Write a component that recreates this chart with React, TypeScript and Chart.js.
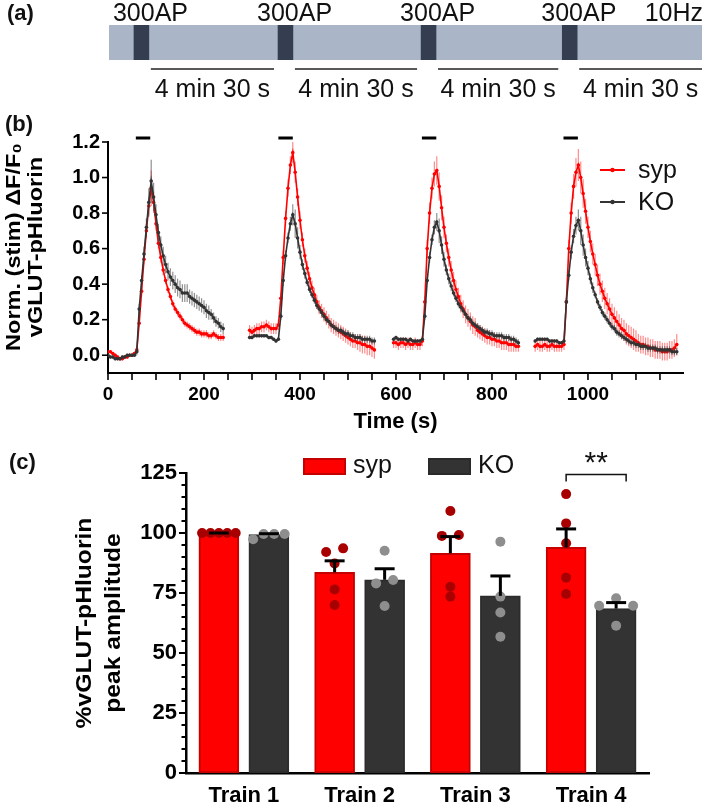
import React, { useEffect, useRef } from 'react';
import { Chart, registerables } from 'chart.js';

Chart.register(...registerables);

const FONT = "'Liberation Sans', Arial, Helvetica, sans-serif";

// ---------------- Panel (a): stimulation protocol ----------------
const PROTOCOL_END = 1235;
const TRAIN_STARTS = [52, 352, 650, 944];
const TRAIN_LEN = 31;
const TRAIN_LABEL = '300AP';
const FREQ_LABEL = '10Hz';
const REST_LABEL = '4 min 30 s';

// ---------------- Panel (b): traces ----------------
const TIME_MAX = 1198;
const SAMPLE_STEP = 5;
const SEG_STARTS = [0, 295, 595, 890];
const STIM_TIMES = [58, 355, 654, 949];
const STIM_DUR = 30;
const X_LABELS_B = [0, 200, 400, 600, 800, 1000];
const X_MINOR_B = 50;
const Y_TICKS_B = [0, 0.2, 0.4, 0.6, 0.8, 1.0, 1.2];
const Y_TITLE_B = ['Norm. (stim) \u0394F/F\u2080', 'vGLUT-pHluorin'];

const SYP_SEG1 = [0.02,0.02,0.01,0.00,-0.01,-0.02,-0.02,-0.01,-0.01,0.00,0.00,0.01,
  0.03,0.18,0.36,0.54,0.70,0.84,0.94,0.86,0.74,0.63,0.55,0.48,0.42,0.37,0.33,0.29,0.26,0.24,0.22,0.20,0.18,0.17,0.16,0.15,0.14,0.13,0.13,0.12,0.12,0.12,0.11,0.11,0.12,0.11,0.10,0.10,0.10];
const KO_SEG1 = [0.00,-0.01,-0.01,-0.02,-0.02,-0.02,-0.01,-0.01,0.00,0.00,0.00,0.00,
  0.02,0.26,0.42,0.57,0.72,0.86,0.98,0.89,0.79,0.69,0.62,0.56,0.51,0.47,0.44,0.42,0.40,0.38,0.37,0.35,0.35,0.35,0.33,0.32,0.31,0.30,0.29,0.28,0.27,0.25,0.24,0.23,0.21,0.19,0.18,0.16,0.15];
const SYP_SEG2 = [0.14,0.13,0.14,0.15,0.15,0.16,0.16,0.17,0.16,0.15,0.15,0.15,0.17,
  0.32,0.55,0.77,0.94,1.07,1.14,1.03,0.89,0.76,0.65,0.56,0.49,0.43,0.38,0.34,0.30,0.27,0.25,0.23,0.21,0.19,0.17,0.16,0.15,0.14,0.13,0.12,0.11,0.10,0.09,0.08,0.08,0.07,0.07,0.06,0.06,0.05,0.05,0.04,0.03];
const KO_SEG2 = [0.10,0.10,0.11,0.11,0.11,0.11,0.11,0.11,0.10,0.10,0.09,0.08,0.09,
  0.22,0.42,0.56,0.66,0.74,0.79,0.74,0.66,0.58,0.51,0.46,0.41,0.37,0.34,0.31,0.28,0.26,0.24,0.22,0.20,0.19,0.17,0.16,0.15,0.14,0.14,0.13,0.12,0.12,0.11,0.11,0.10,0.10,0.10,0.09,0.09,0.09,0.09,0.08,0.08];
const SYP_SEG3 = [0.07,0.07,0.06,0.07,0.07,0.06,0.07,0.06,0.06,0.07,0.06,0.06,0.08,
  0.30,0.60,0.80,0.94,1.02,1.04,0.95,0.83,0.72,0.63,0.55,0.48,0.42,0.37,0.33,0.29,0.26,0.23,0.21,0.19,0.17,0.16,0.14,0.13,0.12,0.11,0.10,0.10,0.09,0.09,0.08,0.08,0.07,0.07,0.07,0.06,0.06,0.06,0.05,0.05];
const KO_SEG3 = [0.09,0.10,0.09,0.09,0.09,0.09,0.08,0.09,0.08,0.08,0.08,0.08,0.09,
  0.22,0.42,0.55,0.65,0.72,0.75,0.70,0.62,0.54,0.48,0.43,0.39,0.35,0.32,0.29,0.27,0.25,0.23,0.21,0.20,0.18,0.17,0.16,0.15,0.14,0.13,0.13,0.12,0.12,0.11,0.11,0.11,0.11,0.10,0.10,0.10,0.09,0.09,0.08,0.07];
const SYP_SEG4 = [0.05,0.06,0.05,0.05,0.06,0.05,0.05,0.06,0.05,0.05,0.05,0.05,0.06,
  0.30,0.60,0.80,0.95,1.03,1.07,1.00,0.91,0.81,0.72,0.64,0.57,0.51,0.45,0.40,0.36,0.32,0.29,0.26,0.23,0.21,0.19,0.17,0.15,0.14,0.12,0.11,0.10,0.09,0.08,0.07,0.06,0.06,0.05,0.05,0.04,0.04,0.03,0.03,0.03,0.02,0.02,0.02,0.03,0.03,0.04,0.06];
const KO_SEG4 = [0.08,0.09,0.09,0.09,0.09,0.09,0.08,0.08,0.08,0.08,0.07,0.07,0.08,
  0.30,0.45,0.58,0.67,0.73,0.76,0.70,0.62,0.55,0.49,0.43,0.38,0.34,0.30,0.27,0.24,0.22,0.20,0.18,0.16,0.15,0.13,0.12,0.11,0.10,0.09,0.08,0.07,0.07,0.06,0.06,0.05,0.05,0.05,0.04,0.04,0.04,0.04,0.03,0.03,0.03,0.03,0.03,0.03,0.02,0.02,0.02];

const SYP_ERR1 = [0.01,0.01,0.01,0.01,0.01,0.01,0.01,0.01,0.01,0.01,0.01,0.01,
  0.02,0.02,0.03,0.03,0.04,0.05,0.10,0.06,0.04,0.03,0.03,0.03,
  0.02,0.02,0.02,0.02,0.02,0.02,0.02,0.02,0.02,0.02,0.02,0.02,0.02,0.02,0.02,0.02,0.02,0.02,0.02,0.02,0.02,0.02,0.02,0.02,0.02];
const KO_ERR1 = [0.01,0.01,0.01,0.01,0.01,0.01,0.01,0.01,0.01,0.01,0.01,0.01,
  0.02,0.03,0.03,0.04,0.05,0.08,0.12,0.08,0.06,0.05,0.05,0.05,
  0.05,0.05,0.05,0.05,0.05,0.05,0.05,0.05,0.05,0.05,0.04,0.04,0.04,0.04,0.04,0.04,0.04,0.04,0.04,0.03,0.03,0.03,0.03,0.03,0.03];
const SYP_ERR2 = [0.03,0.03,0.03,0.03,0.03,0.03,0.03,0.03,0.03,0.03,0.03,0.03,0.03,
  0.03,0.04,0.04,0.05,0.05,0.06,0.06,0.05,0.05,0.04,
  0.04,0.04,0.04,0.04,0.04,0.04,0.04,0.04,0.04,0.04,0.04,0.04,0.04,0.04,0.04,0.04,0.04,0.04,0.04,0.04,0.04,0.04,0.04,
  0.05,0.05,0.05,0.05,0.05,0.05,0.05];
const KO_ERR2 = [0.01,0.01,0.01,0.01,0.01,0.01,0.01,0.01,0.01,0.01,0.01,0.01,0.01,
  0.02,0.03,0.03,0.03,0.04,0.06,0.08,0.06,0.04,0.03,0.03,0.02,
  0.02,0.02,0.02,0.02,0.02,0.02,0.02,0.02,0.02,0.02,0.02,0.02,0.02,0.02,0.02,0.02,0.02,0.02,0.02,0.02,0.02,0.02,0.02,0.02,0.02,0.02,0.02,0.02];
const SYP_ERR3 = [0.03,0.03,0.03,0.03,0.03,0.03,0.03,0.03,0.03,0.03,0.03,0.03,0.03,
  0.03,0.05,0.06,0.06,0.07,0.08,0.08,0.07,0.06,0.05,
  0.05,0.05,0.05,0.05,0.05,0.05,0.05,0.05,0.05,0.05,0.05,0.05,
  0.04,0.04,0.04,0.04,0.04,0.04,0.04,0.04,0.04,0.04,0.04,0.04,0.04,0.04,0.04,0.04,0.03,0.03];
const KO_ERR3 = [0.01,0.01,0.01,0.01,0.01,0.01,0.01,0.01,0.01,0.01,0.01,0.01,0.01,
  0.02,0.02,0.03,0.03,0.04,0.05,0.07,0.05,0.04,0.03,0.03,0.03,
  0.02,0.02,0.02,0.02,0.02,0.02,0.02,0.02,0.02,0.02,0.02,0.02,0.02,0.02,0.02,0.02,0.02,0.02,0.02,0.02,0.02,0.02,0.02,0.02,0.02,0.02,0.02,0.02];
const SYP_ERR4 = [0.03,0.03,0.03,0.03,0.03,0.03,0.03,0.03,0.03,0.03,0.03,0.03,0.03,
  0.03,0.05,0.06,0.07,0.08,0.09,0.09,0.08,0.07,0.06,
  0.06,0.06,0.06,0.06,0.06,0.06,0.06,0.06,0.06,0.06,0.06,0.06,0.06,0.06,0.06,0.06,0.06,0.06,0.06,0.06,
  0.05,0.05,0.05,0.05,0.05,0.05,0.05,0.05,0.05,0.05,0.05,0.05,0.05,0.05,0.05,0.05,0.06];
const KO_ERR4 = [0.01,0.01,0.01,0.01,0.01,0.01,0.01,0.01,0.01,0.01,0.01,0.01,0.01,
  0.02,0.03,0.04,0.04,0.05,0.06,0.08,0.06,0.05,0.04,0.03,0.03,
  0.02,0.02,0.02,0.02,0.02,0.02,0.02,0.02,0.02,0.02,0.02,0.02,0.02,0.02,0.02,0.02,0.02,0.02,0.02,0.02,0.02,0.02,0.02,0.02,0.02,0.02,0.02,0.02,0.02,0.02,0.02,0.02,0.02,0.02,0.02];

const SYP_SEGS = [SYP_SEG1, SYP_SEG2, SYP_SEG3, SYP_SEG4];
const KO_SEGS = [KO_SEG1, KO_SEG2, KO_SEG3, KO_SEG4];
const SYP_ERRS = [SYP_ERR1, SYP_ERR2, SYP_ERR3, SYP_ERR4];
const KO_ERRS = [KO_ERR1, KO_ERR2, KO_ERR3, KO_ERR4];

// ---------------- Panel (c): peak amplitudes ----------------
const TRAINS = ['Train 1', 'Train 2', 'Train 3', 'Train 4'];
const SYP_MEAN = [100, 83.6, 91.5, 94];
const SYP_SEM = [0, 4.8, 7.0, 7.7];
const KO_MEAN = [99.3, 80.5, 73.8, 68.5];
const KO_SEM = [0.4, 4.6, 8.3, 2.5];
const SYP_CELLS = [[100, 100, 100, 100, 100], [92.1, 93.6, 87.3, 76.5, 70], [109.2, 98.8, 99.2, 77.6, 73.5], [116.2, 104, 95.7, 81.4, 74.6]];
const KO_CELLS = [[97.4, 99.6, 99.6, 99.6], [92.6, 79, 80.4, 69.6], [96.4, 73.5, 66.9, 56.8], [69.7, 72.8, 69.7, 61.4]];
const Y_LABELS_C = [0, 25, 50, 75, 100, 125];
const Y_MINOR_C = 5;
const Y_TITLE_C = ['%vGLUT-pHluorin', 'peak amplitude'];
const SIG_LABEL = '**';

const RED = '#ff0000';
const DARK = '#333333';

function buildSeries(segs: number[][], errs: number[][]) {
  const pts: { x: number; y: number | null; e: number }[] = [];
  segs.forEach((seg, si) => {
    if (si > 0) pts.push({ x: SEG_STARTS[si] - 20, y: null, e: 0 });
    seg.forEach((v, i) => pts.push({ x: SEG_STARTS[si] + i * SAMPLE_STEP, y: v, e: errs[si][i] ?? 0 }));
  });
  return pts;
}

// horizontal spread (px) of dots that would overlap
function swarm(vals: number[]): number[] {
  const idx = vals.map((_, i) => i).sort((a, b) => vals[a] - vals[b]);
  const groups: number[][] = [];
  let cur: number[] = [];
  idx.forEach((i, k) => {
    if (k > 0 && vals[i] - vals[idx[k - 1]] >= 3.5) { groups.push(cur); cur = []; }
    cur.push(i);
  });
  if (cur.length) groups.push(cur);
  const off = new Array(vals.length).fill(0);
  groups.forEach((g) => {
    g.sort((a, b) => a - b);
    const n = g.length;
    const sp = n <= 3 ? 17 : 42 / n;
    g.forEach((i, k) => { off[i] = (k - (n - 1) / 2) * sp; });
  });
  return off;
}

function line(ctx: CanvasRenderingContext2D, x0: number, y0: number, x1: number, y1: number) {
  ctx.beginPath();
  ctx.moveTo(x0, y0);
  ctx.lineTo(x1, y1);
  ctx.stroke();
}

function rotatedTitle(ctx: CanvasRenderingContext2D, lines: string[], xs: number[], cy: number, font: string, stretch: number) {
  ctx.save();
  ctx.font = font;
  ctx.fillStyle = '#000';
  ctx.textAlign = 'center';
  ctx.textBaseline = 'middle';
  lines.forEach((t, i) => {
    ctx.save();
    ctx.translate(xs[i], cy);
    ctx.rotate(-Math.PI / 2);
    ctx.scale(stretch, 1);
    ctx.fillText(t, 0, 0);
    ctx.restore();
  });
  ctx.restore();
}

const panelAText = {
  id: 'panelAText',
  afterDraw(chart: any) {
    const { ctx, chartArea: area } = chart;
    const xs = chart.scales.x;
    ctx.save();
    ctx.fillStyle = '#111';
    ctx.font = `bold 22px ${FONT}`;
    ctx.textBaseline = 'middle';
    ctx.textAlign = 'left';
    ctx.fillText('(a)', 7, 14);
    ctx.font = `25px ${FONT}`;
    ctx.textBaseline = 'alphabetic';
    TRAIN_STARTS.forEach((s) => ctx.fillText(TRAIN_LABEL, xs.getPixelForValue(s) - 21, 21));
    ctx.textAlign = 'right';
    ctx.fillText(FREQ_LABEL, area.right + 1, 21);
    ctx.strokeStyle = '#222';
    ctx.lineWidth = 1.3;
    ctx.textAlign = 'center';
    TRAIN_STARTS.forEach((s, i) => {
      const x0 = xs.getPixelForValue(s + TRAIN_LEN) + 2;
      const x1 = i < TRAIN_STARTS.length - 1 ? xs.getPixelForValue(TRAIN_STARTS[i + 1]) - 4 : area.right;
      line(ctx, x0, 69, x1, 69);
      ctx.fillText(REST_LABEL, (x0 + x1) / 2, 97);
    });
    ctx.restore();
  },
};

const panelBDecor = {
  id: 'panelBDecor',
  beforeDatasetDraw(chart: any, args: any) {
    const ds = chart.data.datasets[args.index];
    const ys = chart.scales.y;
    const ctx = chart.ctx;
    ctx.save();
    ctx.strokeStyle = ds.errorColor;
    ctx.lineWidth = 1.2;
    ctx.beginPath();
    args.meta.data.forEach((el: any, i: number) => {
      const p = ds.data[i];
      if (p.y == null) return;
      ctx.moveTo(el.x, ys.getPixelForValue(p.y - p.e));
      ctx.lineTo(el.x, ys.getPixelForValue(p.y + p.e));
    });
    ctx.stroke();
    ctx.restore();
  },
  afterDraw(chart: any) {
    const { ctx } = chart;
    const xs = chart.scales.x;
    const ys = chart.scales.y;
    ctx.save();
    // axis tick marks
    ctx.strokeStyle = '#000';
    ctx.lineWidth = 1.6;
    for (let t = 0; t <= TIME_MAX; t += X_MINOR_B) {
      const p = xs.getPixelForValue(t);
      line(ctx, p, xs.top, p, xs.top + 7);
    }
    Y_TICKS_B.forEach((v) => {
      const p = ys.getPixelForValue(v);
      line(ctx, ys.right - 6, p, ys.right, p);
    });
    // stimulation bars
    ctx.lineWidth = 3;
    const yb = ys.getPixelForValue(1.2225);
    STIM_TIMES.forEach((s) => line(ctx, xs.getPixelForValue(s), yb, xs.getPixelForValue(s + STIM_DUR), yb));
    // legend
    const items = [
      { label: 'syp', color: RED, y: 65 },
      { label: 'KO', color: DARK, y: 97 },
    ];
    items.forEach((it) => {
      ctx.strokeStyle = it.color;
      ctx.fillStyle = it.color;
      ctx.lineWidth = 2;
      line(ctx, 600, it.y, 625, it.y);
      ctx.beginPath();
      ctx.arc(612.5, it.y, 2.2, 0, Math.PI * 2);
      ctx.fill();
      ctx.fillStyle = '#111';
      ctx.font = `25px ${FONT}`;
      ctx.textAlign = 'left';
      ctx.textBaseline = 'middle';
      ctx.fillText(it.label, 638, it.y + 1);
    });
    ctx.font = `bold 22px ${FONT}`;
    ctx.fillStyle = '#111';
    ctx.fillText('(b)', 5, 20);
    ctx.restore();
    rotatedTitle(ctx, Y_TITLE_B, [14, 36], 142, `bold 21px ${FONT}`, 1.12);
  },
};

const panelCDecor = {
  id: 'panelCDecor',
  afterDatasetsDraw(chart: any) {
    const { ctx } = chart;
    const ys = chart.scales.y;
    ctx.save();
    ctx.strokeStyle = '#000';
    ctx.lineWidth = 3;
    [0, 1].forEach((di) => {
      const ds = chart.data.datasets[di];
      const meta = chart.getDatasetMeta(di);
      meta.data.forEach((bar: any, i: number) => {
        const top = ys.getPixelForValue(ds.data[i].y + ds.sem[i]);
        line(ctx, bar.x, bar.y, bar.x, top);
        line(ctx, bar.x - 10, top, bar.x + 10, top);
      });
    });
    // significance bracket between syp and KO of train 4
    const last = TRAINS.length - 1;
    const bx0 = chart.getDatasetMeta(0).data[last].x;
    const bx1 = chart.getDatasetMeta(1).data[last].x + 10;
    const by = ys.getPixelForValue(124.4);
    ctx.lineWidth = 1.5;
    ctx.strokeStyle = '#111';
    ctx.beginPath();
    ctx.moveTo(bx0, by + 7);
    ctx.lineTo(bx0, by);
    ctx.lineTo(bx1, by);
    ctx.lineTo(bx1, by + 7);
    ctx.stroke();
    ctx.fillStyle = '#111';
    ctx.font = `30px ${FONT}`;
    ctx.textAlign = 'center';
    ctx.textBaseline = 'alphabetic';
    ctx.fillText(SIG_LABEL, (bx0 + bx1) / 2, by - 2);
    ctx.restore();
  },
  afterDraw(chart: any) {
    const { ctx } = chart;
    const ys = chart.scales.y;
    ctx.save();
    // y tick marks (major + minor)
    ctx.strokeStyle = '#000';
    ctx.lineWidth = 2;
    for (let v = 0; v <= Y_LABELS_C[Y_LABELS_C.length - 1]; v += Y_MINOR_C) {
      const p = ys.getPixelForValue(v);
      const len = Y_LABELS_C.includes(v) ? 7 : 4.5;
      line(ctx, ys.right - len, p, ys.right, p);
    }
    const items = [
      { label: 'syp', fill: RED, border: '#c40000', x: 303 },
      { label: 'KO', fill: DARK, border: '#2a2a2a', x: 428 },
    ];
    items.forEach((it) => {
      ctx.fillStyle = it.fill;
      ctx.fillRect(it.x, 23, 43, 17);
      ctx.strokeStyle = it.border;
      ctx.lineWidth = 2;
      ctx.strokeRect(it.x + 1, 24, 41, 15);
      ctx.fillStyle = '#111';
      ctx.font = `25px ${FONT}`;
      ctx.textAlign = 'left';
      ctx.textBaseline = 'middle';
      ctx.fillText(it.label, it.x + 50, 31);
    });
    ctx.font = `bold 22px ${FONT}`;
    ctx.fillText('(c)', 9, 28);
    ctx.restore();
    rotatedTitle(ctx, Y_TITLE_C, [85, 114], 188, `bold 22px ${FONT}`, 1.12);
  },
};

function makeA(canvas: HTMLCanvasElement) {
  return new Chart(canvas, {
    type: 'bar',
    data: {
      labels: ['protocol'],
      datasets: [
        { data: [[0, PROTOCOL_END]], backgroundColor: '#aab5c8', grouped: false, barPercentage: 1, categoryPercentage: 1, order: 2 },
        ...TRAIN_STARTS.map((s) => ({ data: [[s, s + TRAIN_LEN]], backgroundColor: '#343e50', grouped: false, barPercentage: 1, categoryPercentage: 1, order: 1 })),
      ],
    },
    options: {
      indexAxis: 'y',
      responsive: false,
      animation: false,
      events: [],
      layout: { padding: { left: 109, right: 7, top: 25, bottom: 45 } },
      scales: {
        x: { type: 'linear', min: 0, max: PROTOCOL_END, display: false },
        y: { display: false },
      },
      plugins: { legend: { display: false }, tooltip: { enabled: false } },
    },
    plugins: [panelAText],
  } as any);
}

function makeB(canvas: HTMLCanvasElement) {
  return new Chart(canvas, {
    type: 'line',
    data: {
      datasets: [
        {
          label: 'syp', data: buildSeries(SYP_SEGS, SYP_ERRS), borderColor: RED, backgroundColor: RED,
          pointRadius: 1.8, pointBorderWidth: 0, borderWidth: 1.6, tension: 0, spanGaps: false, order: 2,
          errorColor: 'rgba(255,45,45,0.55)',
        },
        {
          label: 'KO', data: buildSeries(KO_SEGS, KO_ERRS), borderColor: DARK, backgroundColor: DARK,
          pointRadius: 1.8, pointBorderWidth: 0, borderWidth: 1.6, tension: 0, spanGaps: false, order: 1,
          errorColor: 'rgba(70,70,70,0.6)',
        },
      ],
    },
    options: {
      responsive: false,
      animation: false,
      events: [],
      layout: { padding: { top: 37, right: 26, left: 0, bottom: 0 } },
      scales: {
        x: {
          type: 'linear', min: 0, max: TIME_MAX,
          afterBuildTicks: (s: any) => { s.ticks = X_LABELS_B.map((v) => ({ value: v })); },
          ticks: {
            autoSkip: false, maxRotation: 0, padding: 3, color: '#000',
            font: { family: FONT, size: 19, weight: 'bold' },
            callback: (v: any) => String(v),
          },
          grid: { display: false, drawTicks: true, tickLength: 7 },
          border: { display: true, color: '#000', width: 2 },
          title: { display: true, text: 'Time (s)', color: '#000', font: { family: FONT, size: 22, weight: 'bold' }, padding: 0 },
          afterFit: (s: any) => { s.height = 62; },
        },
        y: {
          type: 'linear', min: -0.1, max: 1.2,
          afterBuildTicks: (s: any) => { s.ticks = Y_TICKS_B.map((v) => ({ value: v })); },
          ticks: {
            autoSkip: false, padding: 2, color: '#000', font: { family: FONT, size: 20, weight: 'bold' },
            callback: (v: any) => Number(v).toFixed(1),
          },
          grid: { display: false, drawTicks: true, tickLength: 6 },
          border: { display: true, color: '#000', width: 2 },
          afterFit: (s: any) => { s.width = 108; },
        },
      },
      plugins: { legend: { display: false }, tooltip: { enabled: false } },
    },
    plugins: [panelBDecor],
  } as any);
}

function makeC(canvas: HTMLCanvasElement) {
  const BAR_SHIFT = 0.216; // half of the syp-KO centre distance, in category units
  const CAT_PX = 115.75;
  const bars = (vals: number[], sign: number) => vals.map((v, i) => ({ x: i + sign * BAR_SHIFT, y: v }));
  const dots = (cells: number[][], sign: number) =>
    cells.flatMap((vals, t) => {
      const off = swarm(vals);
      return vals.map((v, i) => ({ x: t + sign * BAR_SHIFT + off[i] / CAT_PX, y: v }));
    });
  const labelFont = { family: FONT, size: 22, weight: 'bold' };
  return new Chart(canvas, {
    type: 'bar',
    data: {
      datasets: [
        { type: 'bar', label: 'syp', data: bars(SYP_MEAN, -1), sem: SYP_SEM, backgroundColor: RED, borderColor: '#c40000', borderWidth: 2, borderSkipped: false, barThickness: 40, grouped: false, order: 3 },
        { type: 'bar', label: 'KO', data: bars(KO_MEAN, 1), sem: KO_SEM, backgroundColor: DARK, borderColor: '#2c2c2c', borderWidth: 2, borderSkipped: false, barThickness: 40, grouped: false, order: 3 },
        { type: 'scatter', label: 'syp cells', data: dots(SYP_CELLS, -1), backgroundColor: '#a80000', borderWidth: 0, pointRadius: 5, order: 1 },
        { type: 'scatter', label: 'KO cells', data: dots(KO_CELLS, 1), backgroundColor: '#8e8e8e', borderWidth: 0, pointRadius: 5, order: 1 },
      ],
    },
    options: {
      responsive: false,
      animation: false,
      events: [],
      layout: { padding: { top: 38, right: 60, left: 0, bottom: 0 } },
      scales: {
        x: {
          type: 'linear', min: -0.5, max: 3.5, offset: false,
          afterBuildTicks: (s: any) => { s.ticks = TRAINS.map((_, i) => ({ value: i })); },
          grid: { display: false, drawTicks: false },
          border: { display: true, color: '#000', width: 2.5 },
          ticks: { color: '#000', font: labelFont, padding: 10, maxRotation: 0, autoSkip: false, callback: (v: any) => TRAINS[Math.round(v)] ?? '' },
          afterFit: (s: any) => { s.height = 36; },
        },
        y: {
          type: 'linear', min: 0, max: 125,
          afterBuildTicks: (s: any) => { s.ticks = Y_LABELS_C.map((v) => ({ value: v })); },
          ticks: { autoSkip: false, padding: 3, color: '#000', font: labelFont, callback: (v: any) => String(v) },
          grid: { display: false, drawTicks: true, tickLength: 6 },
          border: { display: true, color: '#000', width: 2.5 },
          afterFit: (s: any) => { s.width = 186; },
        },
      },
      plugins: { legend: { display: false }, tooltip: { enabled: false } },
    },
    plugins: [panelCDecor],
  } as any);
}

export default function App() {
  const aRef = useRef<HTMLCanvasElement>(null);
  const bRef = useRef<HTMLCanvasElement>(null);
  const cRef = useRef<HTMLCanvasElement>(null);

  useEffect(() => {
    const charts = [makeA(aRef.current!), makeB(bRef.current!), makeC(cRef.current!)];
    return () => charts.forEach((c) => c.destroy());
  }, []);

  return (
    <div style={{ position: 'absolute', left: 0, top: 0, width: 709, height: 809, background: '#fff' }}>
      <canvas ref={aRef} width={709} height={105} style={{ position: 'absolute', left: 0, top: 0 }} />
      <canvas ref={bRef} width={709} height={330} style={{ position: 'absolute', left: 0, top: 105 }} />
      <canvas ref={cRef} width={709} height={374} style={{ position: 'absolute', left: 0, top: 435 }} />
    </div>
  );
}
